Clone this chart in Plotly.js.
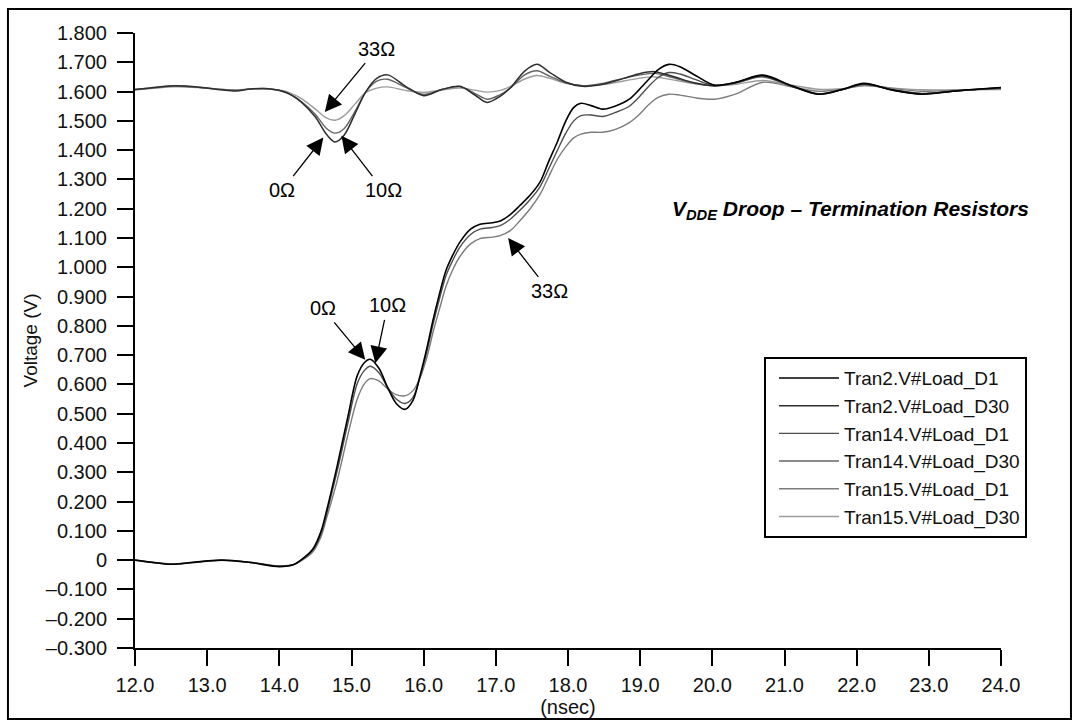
<!DOCTYPE html>
<html>
<head>
<meta charset="utf-8">
<script src="https://cdn.plot.ly/plotly-3.0.1.min.js"></script>
<style>
  html, body { margin: 0; padding: 0; background: #fff; }
  #chart { width: 1079px; height: 727px; }
</style>
</head>
<body>
<div id="chart"></div>
<script>
// ---- Data (time in ns, voltage in V) ----
const tVdde = [12.0, 12.3, 12.55, 12.9, 13.2, 13.4, 13.6, 13.85, 14.1, 14.3, 14.5, 14.65, 14.77, 14.9, 15.05, 15.2, 15.35, 15.5, 15.75, 16.0, 16.25, 16.5, 16.7, 16.88, 17.05, 17.2, 17.4, 17.57, 17.75, 17.97, 18.2, 18.48, 18.77, 19.0, 19.2, 19.45, 19.75, 20.03, 20.33, 20.7, 21.1, 21.47, 21.8, 22.1, 22.5, 22.9, 23.4, 24.0];

const vdde0 = [1.607, 1.615, 1.620, 1.615, 1.606, 1.602, 1.609, 1.610, 1.596, 1.565, 1.513, 1.455, 1.428, 1.452, 1.525, 1.600, 1.645, 1.657, 1.618, 1.586, 1.607, 1.618, 1.590, 1.563, 1.582, 1.612, 1.670, 1.693, 1.665, 1.632, 1.618, 1.625, 1.645, 1.662, 1.668, 1.652, 1.630, 1.620, 1.632, 1.655, 1.618, 1.591, 1.607, 1.627, 1.605, 1.592, 1.603, 1.613];

const vdde10 = [1.607, 1.614, 1.619, 1.614, 1.607, 1.604, 1.609, 1.610, 1.597, 1.567, 1.522, 1.475, 1.458, 1.474, 1.533, 1.600, 1.636, 1.642, 1.614, 1.590, 1.607, 1.617, 1.595, 1.574, 1.588, 1.612, 1.657, 1.671, 1.652, 1.630, 1.620, 1.628, 1.645, 1.657, 1.662, 1.648, 1.628, 1.620, 1.630, 1.650, 1.618, 1.593, 1.607, 1.625, 1.606, 1.594, 1.603, 1.611];

const vdde33 = [1.605, 1.612, 1.616, 1.613, 1.608, 1.606, 1.609, 1.609, 1.600, 1.577, 1.540, 1.510, 1.502, 1.518, 1.558, 1.597, 1.612, 1.616, 1.604, 1.597, 1.605, 1.612, 1.605, 1.598, 1.603, 1.617, 1.643, 1.655, 1.645, 1.628, 1.620, 1.624, 1.636, 1.646, 1.650, 1.640, 1.627, 1.620, 1.625, 1.638, 1.622, 1.608, 1.610, 1.620, 1.612, 1.606, 1.606, 1.607];

const tSig = [12.0, 12.25, 12.5, 12.8, 13.2, 13.6, 14.0, 14.2, 14.35, 14.47, 14.58, 14.66, 14.8, 14.95, 15.08, 15.18, 15.26, 15.38, 15.5, 15.62, 15.74, 15.85, 15.95, 16.05, 16.13, 16.22, 16.31, 16.4, 16.5, 16.65, 16.78, 16.95, 17.06, 17.2, 17.33, 17.47, 17.61, 17.73, 17.85, 17.97, 18.08, 18.18, 18.32, 18.48, 18.65, 18.85, 18.98, 19.12, 19.25, 19.4, 19.55, 19.78, 20.03, 20.33, 20.7, 21.1, 21.47, 21.8, 22.1, 22.5, 22.9, 23.4, 24.0];

const sig0 = [0.000, -0.008, -0.014, -0.008, 0.000, -0.008, -0.022, -0.015, 0.010, 0.040, 0.100, 0.174, 0.320, 0.490, 0.630, 0.675, 0.686, 0.655, 0.590, 0.535, 0.515, 0.545, 0.630, 0.730, 0.820, 0.910, 0.990, 1.040, 1.085, 1.130, 1.147, 1.152, 1.158, 1.180, 1.210, 1.245, 1.290, 1.360, 1.427, 1.500, 1.546, 1.560, 1.552, 1.540, 1.550, 1.574, 1.605, 1.642, 1.675, 1.693, 1.685, 1.653, 1.622, 1.632, 1.656, 1.620, 1.591, 1.607, 1.628, 1.605, 1.591, 1.603, 1.614];

const sig10 = [0.000, -0.008, -0.014, -0.008, 0.000, -0.008, -0.021, -0.015, 0.008, 0.036, 0.092, 0.163, 0.303, 0.468, 0.603, 0.648, 0.662, 0.640, 0.590, 0.550, 0.535, 0.555, 0.625, 0.718, 0.805, 0.893, 0.972, 1.022, 1.068, 1.112, 1.130, 1.136, 1.142, 1.164, 1.194, 1.230, 1.274, 1.335, 1.398, 1.458, 1.500, 1.518, 1.520, 1.515, 1.528, 1.550, 1.580, 1.618, 1.648, 1.665, 1.660, 1.640, 1.620, 1.630, 1.652, 1.619, 1.592, 1.607, 1.626, 1.606, 1.593, 1.603, 1.612];

const sig33 = [0.000, -0.007, -0.013, -0.007, 0.000, -0.007, -0.020, -0.015, 0.005, 0.030, 0.082, 0.148, 0.270, 0.428, 0.550, 0.603, 0.620, 0.612, 0.585, 0.565, 0.561, 0.578, 0.622, 0.698, 0.778, 0.858, 0.935, 0.990, 1.036, 1.080, 1.098, 1.103, 1.108, 1.125, 1.158, 1.198, 1.248, 1.308, 1.368, 1.412, 1.442, 1.455, 1.461, 1.461, 1.470, 1.494, 1.520, 1.556, 1.580, 1.591, 1.588, 1.578, 1.574, 1.592, 1.632, 1.616, 1.601, 1.608, 1.621, 1.610, 1.601, 1.605, 1.610];

const seriesNames = ["Tran2.V#Load_D1", "Tran2.V#Load_D30", "Tran14.V#Load_D1", "Tran14.V#Load_D30", "Tran15.V#Load_D1", "Tran15.V#Load_D30"];
const seriesColors = ["#000000", "#2e2e2e", "#4e4e4e", "#646464", "#7c7c7c", "#9c9c9c"];

const yTickVals = [1.8, 1.7, 1.6, 1.5, 1.4, 1.3, 1.2, 1.1, 1.0, 0.9, 0.8, 0.7, 0.6, 0.5, 0.4, 0.3, 0.2, 0.1, 0, -0.1, -0.2, -0.3];
const yTickText = ["1.800", "1.700", "1.600", "1.500", "1.400", "1.300", "1.200", "1.100", "1.000", "0.900", "0.800", "0.700", "0.600", "0.500", "0.400", "0.300", "0.200", "0.100", "0", "\u20130.100", "\u20130.200", "\u20130.300"];
const xTickVals = [12, 13, 14, 15, 16, 17, 18, 19, 20, 21, 22, 23, 24];
const xTickText = ["12.0", "13.0", "14.0", "15.0", "16.0", "17.0", "18.0", "19.0", "20.0", "21.0", "22.0", "23.0", "24.0"];

const FONT = "Liberation Sans, Arial, Helvetica, sans-serif";
const FS = 20;

function mk(idx, x, y, w) {
  return {
    x: x, y: y, type: "scatter", mode: "lines",
    name: seriesNames[idx], legendrank: idx + 1,
    line: { color: seriesColors[idx], width: w, shape: "spline", smoothing: 0.9 },
    hoverinfo: "skip"
  };
}

// draw lighter first so darker traces sit on top
const traces = [
  mk(5, tVdde, vdde33, 1.4),
  mk(4, tSig, sig33, 1.4),
  mk(3, tVdde, vdde10, 1.4),
  mk(2, tSig, sig10, 1.4),
  mk(1, tVdde, vdde0, 1.5),
  mk(0, tSig, sig0, 1.6)
];

function arrow(text, tipX, tipY, txtX, txtY) {
  return {
    x: tipX, y: tipY, xref: "x", yref: "y",
    ax: txtX, ay: txtY, axref: "x", ayref: "y",
    text: text, showarrow: true,
    arrowhead: 2, arrowsize: 2.6, arrowwidth: 1.3, arrowcolor: "#000",
    startstandoff: 2,
    font: { family: FONT, size: FS, color: "#000" }
  };
}

const layout = {
  width: 1079, height: 727,
  paper_bgcolor: "#fff", plot_bgcolor: "#fff",
  margin: { l: 135, r: 78, t: 33, b: 79, pad: 0 },
  font: { family: FONT, size: FS, color: "#000" },
  showlegend: true,
  legend: {
    x: 0.7263, y: 0.473, xanchor: "left", yanchor: "top",
    bgcolor: "#fff", bordercolor: "#000", borderwidth: 2,
    font: { family: FONT, size: 19, color: "#111" },
    itemwidth: 60, indentation: 8, traceorder: "normal"
  },
  xaxis: {
    range: [12, 24], showgrid: false, zeroline: false,
    showline: true, linecolor: "#000", linewidth: 2,
    ticks: "outside", ticklen: 16, tickwidth: 2, tickcolor: "#000",
    tickvals: xTickVals, ticktext: xTickText,
    tickfont: { family: FONT, size: FS, color: "#111" },
    ticklabelstandoff: 2,
    title: { text: "(nsec)", font: { family: FONT, size: FS, color: "#111" }, standoff: 5 }
  },
  yaxis: {
    range: [-0.3, 1.8], showgrid: false, zeroline: false,
    showline: true, linecolor: "#000", linewidth: 2,
    ticks: "outside", ticklen: 16, tickwidth: 2, tickcolor: "#000",
    tickvals: yTickVals, ticktext: yTickText,
    tickfont: { family: FONT, size: FS, color: "#111" },
    ticklabelstandoff: 6,
    title: { text: "Voltage (V)", font: { family: FONT, size: 19, color: "#111" }, standoff: 3 }
  },
  shapes: [
    { type: "rect", xref: "paper", yref: "paper",
      x0: -0.1467, x1: 1.0808, y0: -0.1154, y1: 1.039,
      line: { color: "#000", width: 2 }, fillcolor: "rgba(0,0,0,0)", layer: "above" }
  ],
  annotations: [
    { x: 0.618, y: 0.712, xref: "paper", yref: "paper", xanchor: "left", yanchor: "middle",
      showarrow: false,
      text: "<b><i>V<sub>DDE</sub> Droop \u2013 Termination Resistors</i></b>",
      font: { family: FONT, size: 21, color: "#000" } },
    arrow("33\u03A9", 14.63, 1.53, 15.35, 1.745),
    arrow("0\u03A9", 14.61, 1.443, 14.04, 1.263),
    arrow("10\u03A9", 14.86, 1.449, 15.44, 1.263),
    arrow("0\u03A9", 15.19, 0.684, 14.60, 0.86),
    arrow("10\u03A9", 15.33, 0.672, 15.50, 0.87),
    arrow("33\u03A9", 17.17, 1.10, 17.74, 0.919)
  ]
};

Plotly.newPlot("chart", traces, layout, { displayModeBar: false, staticPlot: true });
</script>
</body>
</html>
